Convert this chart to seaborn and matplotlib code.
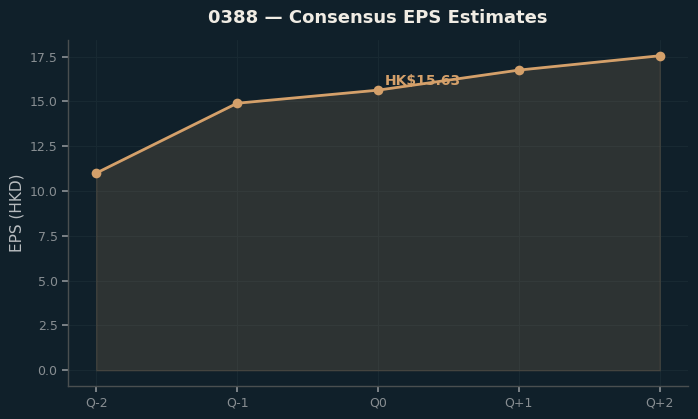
import matplotlib
matplotlib.use("Agg")
import matplotlib.pyplot as plt
import seaborn as sns
import pandas as pd

# Dados
quarters = ["Q-2", "Q-1", "Q0", "Q+1", "Q+2"]
eps = [11.0, 14.9, 15.63, 16.75, 17.55]
current_label = "HK$15.63"

bg = "#10202a"
accent = "#d4a06a"

sns.set_theme(style="dark")
plt.rcParams['font.family'] = ['DejaVu Sans']

df = pd.DataFrame({"quarter": quarters, "eps": eps})
xs = list(range(len(quarters)))

fig, ax = plt.subplots(figsize=(6.98, 4.19), dpi=100)
fig.patch.set_facecolor(bg)
ax.set_facecolor(bg)

ax.fill_between(xs, df["eps"], 0, color=accent, alpha=0.15, zorder=1)
sns.lineplot(x=xs, y=df["eps"], ax=ax, color=accent, linewidth=2,
             marker="o", markersize=7, markeredgewidth=0, zorder=3)

ax.annotate(current_label, (xs[2], eps[2]), xytext=(5, 4), textcoords="offset points",
            color=accent, fontsize=10, fontweight="bold")

ax.set_xticks(xs)
ax.set_xticklabels(quarters)
ax.set_title("0388 — Consensus EPS Estimates", color="#f0ece4", fontsize=13,
             fontweight="bold", pad=12)
ax.set_ylabel("EPS (HKD)", color="#b8bcbf", fontsize=11)
ax.set_xlabel("")

ax.grid(True, color="#182932", linewidth=0.8)
ax.tick_params(colors="#888e92", labelsize=9, length=4, bottom=True, left=True)
for side in ["top", "right"]:
    ax.spines[side].set_visible(False)
for side in ["left", "bottom"]:
    ax.spines[side].set_color("#4a4f50")
    ax.spines[side].set_linewidth(1)

plt.subplots_adjust(left=0.0974, right=0.9857, top=0.9045, bottom=0.0788)
plt.savefig("out.png", facecolor=bg)
plt.close()
